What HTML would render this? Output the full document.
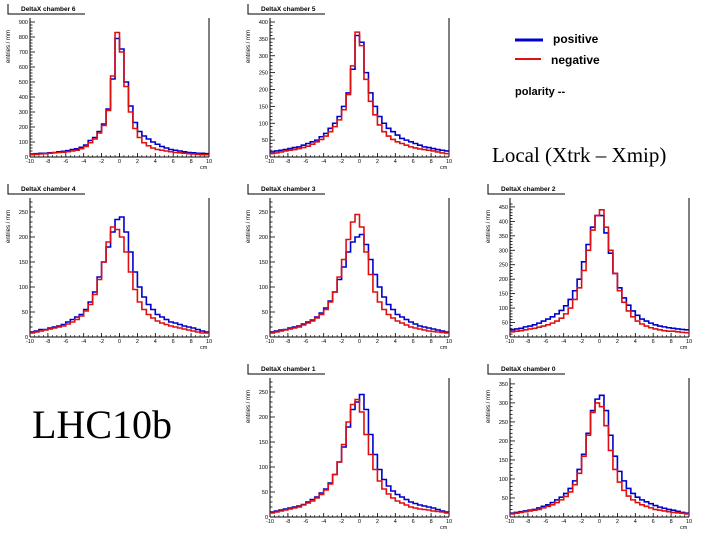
<!DOCTYPE html>
<html><head><meta charset="utf-8"><style>
html,body{margin:0;padding:0;background:#fff;}
body{width:720px;height:540px;overflow:hidden;position:relative;font-family:"Liberation Sans",sans-serif;}
svg{position:absolute;left:0;top:0;}
</style></head><body>
<svg id="c" width="720" height="540">
<g>
<line x1="515" y1="40" x2="543" y2="40" stroke="#0000cc" stroke-width="3"/>
<text x="553" y="43" font-size="12" font-weight="bold">positive</text>
<line x1="515" y1="59" x2="541" y2="59" stroke="#dd1111" stroke-width="2"/>
<text x="551" y="64" font-size="12" font-weight="bold">negative</text>
<text x="515" y="95" font-size="11" font-weight="bold">polarity --</text>
</g>
<text x="492" y="162" font-size="21" font-family="Liberation Serif,serif">Local (Xtrk – Xmip)</text>
<text x="32" y="438" font-size="40" font-family="Liberation Serif,serif">LHC10b</text>
</svg>
<script>
const xTicks=[-10,-8,-6,-4,-2,0,2,4,6,8,10];
const titles=["DeltaX chamber 6","DeltaX chamber 5","DeltaX chamber 4","DeltaX chamber 3","DeltaX chamber 2","DeltaX chamber 1","DeltaX chamber 0"];
const yMax=[900,400,270,270,467,270,355];
const yStep=[100,50,50,50,50,50,50];
const blue6=[20,22,25,25,28,30,35,38,42,50,55,65,80,110,130,170,220,320,520,790,720,500,340,230,170,140,120,100,85,70,60,50,45,40,35,30,28,25,25,22];
const red6=[15,18,20,22,25,28,30,32,35,40,45,55,70,95,120,160,210,310,540,830,700,470,300,190,130,95,75,60,50,45,40,35,30,28,25,22,20,18,15,15];
const blue5=[15,18,20,22,25,28,30,35,40,45,50,60,70,85,100,120,150,190,260,360,340,250,190,150,120,100,85,75,65,55,50,45,40,35,30,28,25,22,20,18];
const red5=[10,12,15,18,20,22,25,28,32,38,45,52,62,75,90,110,140,185,270,370,330,230,165,125,95,75,62,52,45,40,35,30,27,24,22,20,18,15,12,10];
const blue4=[10,12,15,15,18,20,22,25,30,35,40,45,55,70,90,120,150,180,210,235,240,210,170,130,100,80,65,55,45,40,35,30,28,25,22,20,18,15,12,10];
const red4=[8,10,12,14,16,18,20,22,26,30,35,42,52,65,85,115,150,190,220,215,200,170,130,95,70,55,45,38,32,28,25,22,20,18,16,14,12,10,8,8];
const blue3=[10,12,14,15,18,20,22,26,30,34,40,48,58,72,90,115,140,170,190,200,205,185,155,125,100,80,65,55,45,40,35,30,26,22,20,18,16,14,12,10];
const red3=[8,10,12,14,16,18,20,24,28,32,38,45,55,70,90,120,155,195,230,245,220,170,125,90,70,55,45,38,32,28,24,20,18,16,14,12,11,10,9,8];
const blue2=[25,28,30,35,38,42,48,55,62,70,80,92,108,130,160,200,260,320,380,420,420,360,290,220,170,135,110,90,75,62,55,48,42,38,35,32,30,28,26,25];
const red2=[18,20,22,25,28,30,34,38,42,48,55,65,80,100,130,170,230,300,370,420,440,380,300,220,160,120,90,70,55,45,38,32,28,25,22,20,20,18,16,15];
const blue1=[10,12,14,16,18,20,22,25,30,35,40,48,56,68,85,110,140,180,215,230,245,215,165,125,95,75,62,52,45,40,35,30,27,24,22,20,18,15,12,10];
const red1=[8,10,12,14,16,18,20,24,28,32,38,45,54,66,85,110,145,190,225,235,210,165,125,95,72,56,46,38,32,28,24,20,18,16,15,14,12,11,10,8];
const blue0=[10,12,14,16,18,20,24,28,32,38,45,52,62,75,95,125,165,220,280,310,320,280,215,160,120,95,75,62,52,45,40,35,30,26,23,20,18,15,12,10];
const red0=[8,10,12,14,16,18,20,24,28,32,38,45,54,66,85,115,160,215,275,300,290,240,175,125,92,70,55,45,38,32,28,24,20,18,16,14,12,11,10,8];
const blues=[blue6,blue5,blue4,blue3,blue2,blue1,blue0];
const reds=[red6,red5,red4,red3,red2,red1,red0];
const origins=[[0,0],[240,0],[0,180],[240,180],[480,180],[240,360],[480,360]];
const NS='http://www.w3.org/2000/svg';
const svg=document.getElementById('c');
function mk(t,a,p){const e=document.createElementNS(NS,t);for(const k in a)e.setAttribute(k,a[k]);p.appendChild(e);return e;}
origins.forEach((o,i)=>{
  const g=mk('g',{transform:`translate(${o[0]},${o[1]})`},svg);
  
  
  const L=30,R=209,T=22,B=157;
  const xs=v=>L+(v+10)/20*(R-L);
  const ys=v=>B-v/yMax[i]*(B-T);
  mk('path',{d:'M8,4 V14 H85',fill:'none',stroke:'#000','stroke-width':1},g);
  const tt=mk('text',{x:21,y:11,'font-size':6.5,'font-weight':'bold'},g);tt.textContent=titles[i];
  
  
  const yl=mk('text',{x:0,y:0,'font-size':6,transform:`translate(10,${T+8}) rotate(-90)`,'text-anchor':'end'},g);yl.textContent='entries / mm';
  
  
  mk('line',{x1:L,y1:T-4,x2:L,y2:B,stroke:'#000','stroke-width':1},g);
  mk('line',{x1:L,y1:B,x2:R,y2:B,stroke:'#000','stroke-width':1},g);
  mk('line',{x1:R,y1:T-4,x2:R,y2:B,stroke:'#000','stroke-width':1},g);
  for(let v=0;v<=yMax[i];v+=yStep[i]/5){
    const major=Math.abs(v/yStep[i]-Math.round(v/yStep[i]))<1e-6;
    mk('line',{x1:L,y1:ys(v),x2:L+(major?5:2.5),y2:ys(v),stroke:'#000','stroke-width':0.8},g);
    if(major){const t=mk('text',{x:L-2,y:ys(v)+2,'font-size':5.5,'text-anchor':'end'},g);t.textContent=Math.round(v);
      
      }
  }
  xTicks.forEach(v=>{
    mk('line',{x1:xs(v),y1:B,x2:xs(v),y2:B-4,stroke:'#000','stroke-width':0.8},g);
    const t=mk('text',{x:xs(v),y:B+6,'font-size':5.5,'text-anchor':'middle'},g);t.textContent=v;
    
    
  });
  for(let v=-10;v<=10;v+=0.5){mk('line',{x1:xs(v),y1:B,x2:xs(v),y2:B-2,stroke:'#000','stroke-width':0.6},g);}
  const cm=mk('text',{x:R-9,y:B+12,'font-size':5.5},g);cm.textContent='cm';
  
  
  [[blues[i],'#0000cc','positive'],[reds[i],'#dd1111','negative']].forEach(([arr,col,nm])=>{
    const n=arr.length,w=20/n;let d='';
    arr.forEach((v,k)=>{const x0=xs(-10+k*w),x1=xs(-10+(k+1)*w),y=ys(v);d+=(k?'L':'M')+x0+','+y+'L'+x1+','+y;});
    const p=mk('path',{d:d,fill:'none',stroke:col,'stroke-width':1.6},g);
    
    
  });
});
</script>
</body></html>
